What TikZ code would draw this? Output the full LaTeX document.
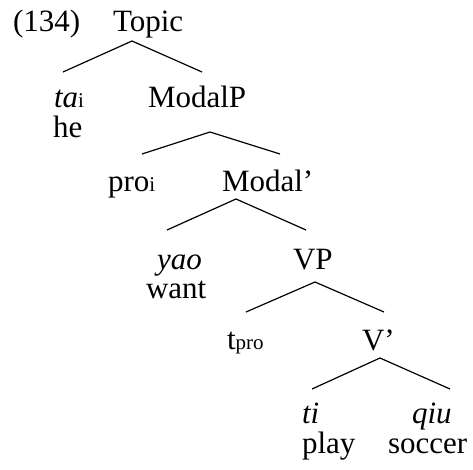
\documentclass[tikz,border=0pt]{standalone}
\usepackage{fontspec}
\setmainfont{Liberation Serif}
\newcommand{\subsz}[1]{{\fontsize{21}{24}\selectfont #1}}
\begin{document}
\begin{tikzpicture}[x=1pt,y=-1pt,
  word/.style={inner sep=0pt,outer sep=0pt,anchor=base west,font=\fontsize{31}{37}\selectfont},
  branch/.style={line width=1.2pt}]
\useasboundingbox (0,0) rectangle (473,470);
% words
\node[word] (num) at (13,32) {(134)};
\node[word] (topic) at (113,32) {Topic};
\node[word] (ta) at (54,108) {\textit{ta}\subsz{i}};
\node[word] (he) at (53,138) {he};
\node[word] (modalp) at (148,108) {ModalP};
\node[word] (pro) at (108,192) {pro\subsz{i}};
\node[word] (modalbar) at (222,192) {Modal’};
\node[word] (yao) at (157,269) {\textit{yao}};
\node[word] (want) at (146,298) {want};
\node[word] (vp) at (293,269) {VP};
\node[word] (tpro) at (227,349) {t\subsz{pro}};
\node[word] (vbar) at (362,350) {V’};
\node[word] (ti) at (302,423) {\textit{ti}};
\node[word] (play) at (302,453) {play};
\node[word] (qiu) at (412,423) {\textit{qiu}};
\node[word] (soccer) at (388,453) {soccer};
% branch points
\coordinate (a1) at (132,41);  \coordinate (l1) at (63,72);   \coordinate (r1) at (202,72);
\coordinate (a2) at (210,132); \coordinate (l2) at (142,154); \coordinate (r2) at (280,154);
\coordinate (a3) at (236,199); \coordinate (l3) at (167,230); \coordinate (r3) at (306,230);
\coordinate (a4) at (315,282); \coordinate (l4) at (246,312); \coordinate (r4) at (384,312);
\coordinate (a5) at (380,358); \coordinate (l5) at (312,389); \coordinate (r5) at (450,389);
\draw[branch] (l1) -- (a1) -- (r1);
\draw[branch] (l2) -- (a2) -- (r2);
\draw[branch] (l3) -- (a3) -- (r3);
\draw[branch] (l4) -- (a4) -- (r4);
\draw[branch] (l5) -- (a5) -- (r5);
\end{tikzpicture}
\end{document}
